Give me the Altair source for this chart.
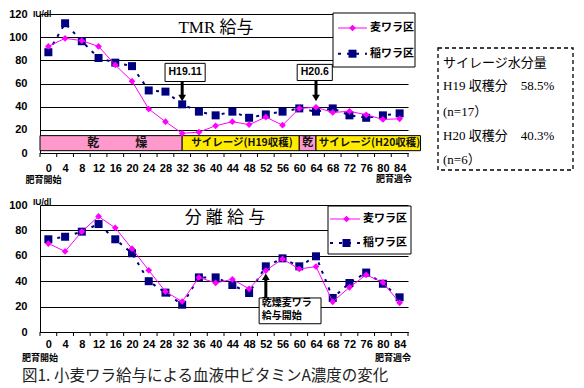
import altair as alt
import pandas as pd

# ---------------- data ----------------
weeks = list(range(0, 88, 4))
series_names = ["麦ワラ区", "稲ワラ区"]

tmr_wheat = [92, 99, 97, 92, 76, 62, 38, 27, 17, 18, 23.5, 27, 24.5, 31, 24,
             38.5, 39.5, 35, 36, 33, 29, 29.5]
tmr_rice = [87, 112, 96.5, 82, 78, 75, 54, 53, 42, 35.7, 32.5, 35.7, 30.4, 33.3,
            35.7, 38.5, 35.7, 38.5, 32.5, 30.4, 32.5, 34.2]

sep_wheat = [69.6, 63.5, 79, 91, 82, 65.6, 48.6, 31.8, 24, 43, 38.6, 41.5, 34,
             48.4, 57.5, 49.6, 51.5, 23.8, 35.2, 45, 39, 23]
sep_rice = [73, 75, 79, 85, 73, 62, 40, 31, 21.5, 43, 43, 37, 30.7, 51.7, 58,
            51.7, 59.6, 26.8, 38.6, 46.8, 38, 27.3]

band_start = [-2, 32, 60, 64]
band_end = [32, 60, 64, 89]
band_fill = ["pink", "yellow", "pink", "yellow"]
band_text = ["乾　　　燥", "サイレージ(H19収穫)", "乾", "サイレージ(H20収穫)"]
band_text_x = [16.5, 46.3, 62, 76.8]
band_text_size = [12, 10.5, 11, 10.5]

side_lines = ["サイレージ水分量", "H19 収穫分　58.5%", "(n=17）",
              "H20 収穫分　40.3%", "(n=6）"]

caption = "図1. 小麦ワラ給与による血液中ビタミンA濃度の変化"

MAG = "#FF00FF"
NAVY = "#000080"
PINK = "#FF99CC"
YELLOW = "#FFEB00"
JP = "Noto Sans CJK JP"
SERIF = "Liberation Serif, Noto Sans CJK JP"

W = 368
xscale = alt.Scale(domain=[-2, 86], nice=False, zero=False)


def one():
    return pd.DataFrame({"a": [0]})


def panel(wheat, rice, ymax, H, lab_pad, title_text, title_x, title_y):
    xaxis = alt.Axis(values=weeks, title=None, grid=False, ticks=False,
                     labelPadding=lab_pad, labelFont="Liberation Sans",
                     labelFontWeight="bold", labelFontSize=11, labelColor="black",
                     labelOverlap=False, labelFlush=False,
                     domainColor="black", domainWidth=1)
    yaxis = alt.Axis(values=list(range(0, ymax + 1, 20)), title=None, grid=True,
                     gridColor="black", gridWidth=1, gridOpacity=1, ticks=False,
                     labelPadding=13, labelFont="Liberation Sans",
                     labelFontWeight="bold", labelFontSize=11, labelColor="black",
                     labelOverlap=False, labelFlush=False,
                     domainColor="black", domainWidth=1)
    yscale = alt.Scale(domain=[0, ymax], nice=False, zero=True)

    def X(f):
        return alt.X(f"{f}:Q", scale=xscale, axis=xaxis)

    def Y(f):
        return alt.Y(f"{f}:Q", scale=yscale, axis=yaxis)

    dw = pd.DataFrame({"week": weeks, "value": wheat})
    dr = pd.DataFrame({"week": weeks, "value": rice})

    base_grid = alt.Chart(dw).mark_point(opacity=0).encode(x=X("week"), y=Y("value"))

    ticks = alt.Chart(pd.DataFrame({"week": [w - 2 for w in weeks] + [86]})).mark_rule(
        color="black", strokeWidth=1).encode(x=X("week"), y=alt.value(H), y2=alt.value(H + 4))

    rice_line = alt.Chart(dr).mark_line(color=NAVY, strokeWidth=2, strokeDash=[3, 6]).encode(
        x=X("week"), y=Y("value"))
    rice_pts = alt.Chart(dr).mark_point(shape="square", filled=True, size=64, color=NAVY,
                                        opacity=1).encode(x=X("week"), y=Y("value"))
    wheat_line = alt.Chart(dw).mark_line(color=MAG, strokeWidth=1).encode(
        x=X("week"), y=Y("value"))
    wheat_pts = alt.Chart(dw).mark_point(shape="diamond", filled=True, size=45, color=MAG,
                                         opacity=1).encode(x=X("week"), y=Y("value"))

    title = alt.Chart(one()).mark_text(font=SERIF, fontSize=17, color="black").encode(
        x=alt.value(title_x), y=alt.value(title_y), text=alt.value(title_text))

    iu = alt.Chart(one()).mark_text(font="Liberation Sans", fontWeight="bold", fontSize=8.5,
                                    align="left", color="black").encode(
        x=alt.value(-7), y=alt.value(-3 if ymax == 100 else 0), text=alt.value("IU/dl"))

    layers = [base_grid, ticks]
    return X, Y, layers, [rice_line, rice_pts, wheat_line, wheat_pts], title, iu


def legend(bx0, bx1, by0, by1, lx0, lx1, mx, tx, y1, y2):
    box = alt.Chart(one()).mark_rect(fill="white", stroke="black", strokeWidth=1).encode(
        x=alt.value(bx0), x2=alt.value(bx1), y=alt.value(by0), y2=alt.value(by1))
    l1 = alt.Chart(one()).mark_rule(color=MAG, strokeWidth=1).encode(
        x=alt.value(lx0), x2=alt.value(lx1), y=alt.value(y1))
    p1 = alt.Chart(one()).mark_point(shape="diamond", filled=True, size=45, color=MAG,
                                     opacity=1).encode(x=alt.value(mx), y=alt.value(y1))
    l2 = alt.Chart(one()).mark_rule(color=NAVY, strokeWidth=2, strokeDash=[3, 6]).encode(
        x=alt.value(lx0), x2=alt.value(lx1), y=alt.value(y2))
    p2 = alt.Chart(one()).mark_point(shape="square", filled=True, size=64, color=NAVY,
                                     opacity=1).encode(x=alt.value(mx), y=alt.value(y2))
    t1 = alt.Chart(one()).mark_text(font=JP, fontWeight="bold", fontSize=11, align="left",
                                    color="black").encode(
        x=alt.value(tx), y=alt.value(y1), text=alt.value(series_names[0]))
    t2 = alt.Chart(one()).mark_text(font=JP, fontWeight="bold", fontSize=11, align="left",
                                    color="black").encode(
        x=alt.value(tx), y=alt.value(y2), text=alt.value(series_names[1]))
    return [box, l1, p1, l2, p2, t1, t2]


def arrow(X, Y, x, y_from, y_to, head_y, down):
    d = pd.DataFrame({"week": [x], "v1": [y_from], "v2": [y_to], "vh": [head_y]})
    shaft = alt.Chart(d).mark_rule(color="black", strokeWidth=3).encode(
        x=X("week"), y=Y("v1"), y2=alt.Y2("v2"))
    head = alt.Chart(d).mark_point(shape="triangle-down" if down else "triangle-up",
                                   filled=True, size=60, color="black", opacity=1).encode(
        x=X("week"), y=Y("vh"))
    return [shaft, head]


def label_box(X, Y, x0, x1, y0, y1):
    d = pd.DataFrame({"week": [x0], "w2": [x1], "v1": [y0], "v2": [y1]})
    return alt.Chart(d).mark_rect(fill="white", stroke="black", strokeWidth=1).encode(
        x=X("week"), x2=alt.X2("w2"), y=Y("v1"), y2=alt.Y2("v2"))


# ---------------- top panel ----------------
H1 = 139
X1, Y1, base1, data1, title1, iu1 = panel(tmr_wheat, tmr_rice, 120, H1, 9, "TMR 給与", 176, 14)

bands = pd.DataFrame({"week": band_start, "w2": band_end, "v1": [2] * 4, "v2": [15] * 4,
                      "kind": band_fill})
band_rect = alt.Chart(bands).mark_rect(stroke="black", strokeWidth=1).encode(
    x=X1("week"), x2=alt.X2("w2"), y=Y1("v1"), y2=alt.Y2("v2"),
    fill=alt.Fill("kind:N", scale=alt.Scale(domain=["pink", "yellow"], range=[PINK, YELLOW]),
                  legend=None))
band_df = pd.DataFrame({"week": band_text_x, "value": [8.5] * 4, "t": band_text,
                        "fs": band_text_size})
band_lab = alt.Chart(band_df).mark_text(font=JP, fontWeight="bold", color="#111").encode(
    x=X1("week"), y=Y1("value"), text="t:N",
    size=alt.Size("fs:Q", scale=None, legend=None))

box_a = label_box(X1, Y1, 27.9, 37.5, 61.7, 77.4)
txt_a = alt.Chart(pd.DataFrame({"week": [32.7], "value": [69.5]})).mark_text(
    font="Liberation Sans", fontWeight="bold", fontSize=10.5, color="black").encode(
    x=X1("week"), y=Y1("value"), text=alt.value("H19.11"))
arr_a = arrow(X1, Y1, 32, 61.7, 50, 47.5, True)

box_b = label_box(X1, Y1, 59.5, 67.9, 62.6, 76.5)
txt_b = alt.Chart(pd.DataFrame({"week": [63.7], "value": [69.5]})).mark_text(
    font="Liberation Sans", fontWeight="bold", fontSize=10.5, color="black").encode(
    x=X1("week"), y=Y1("value"), text=alt.value("H20.6"))
arr_b = arrow(X1, Y1, 64, 62.6, 50, 47.5, True)

leg1 = legend(293, 375, -1, 53, 298, 327, 312.5, 330, 14, 39.7)

side_box = alt.Chart(one()).mark_rect(fill="white", stroke="black", strokeWidth=1.3,
                                      strokeDash=[4, 3]).encode(
    x=alt.value(398), x2=alt.value(533), y=alt.value(34), y2=alt.value(156))
side_txt = alt.Chart(pd.DataFrame({"t": side_lines, "yy": [49, 72, 98, 122, 146]})).mark_text(
    font=SERIF, fontSize=13, align="left", color="black").encode(
    x=alt.value(403), y=alt.Y("yy:Q", scale=None), text="t:N")

kaishi1 = alt.Chart(one()).mark_text(font=JP, fontWeight="bold", fontSize=9, color="black").encode(
    x=alt.value(3.5), y=alt.value(166), text=alt.value("肥育開始"))
shurei1 = alt.Chart(one()).mark_text(font=JP, fontWeight="bold", fontSize=9, color="black").encode(
    x=alt.value(354), y=alt.value(165), text=alt.value("肥育週令"))

top = alt.layer(*base1, band_rect, band_lab, *data1, box_a, txt_a, *arr_a, box_b, txt_b,
                *arr_b, *leg1, side_box, side_txt, title1, iu1, kaishi1, shurei1).properties(
    width=W, height=H1)

# ---------------- bottom panel ----------------
H2 = 127
X2, Y2, base2, data2, title2, iu2 = panel(sep_wheat, sep_rice, 100, H2, 6, "分 離 給 与", 185, 13)

box_c = label_box(X2, Y2, 50.4, 65.2, 6.5, 26.8)
txt_c = alt.Chart(pd.DataFrame({"week": [51.0, 51.0], "value": [23.0, 12.3],
                                "t": ["乾燥麦ワラ", "給与開始"]})).mark_text(
    font=JP, fontWeight="bold", fontSize=10, align="left", color="black").encode(
    x=X2("week"), y=Y2("value"), text="t:N")
arr_c = arrow(X2, Y2, 52, 26.8, 41, 43.5, False)

leg2 = legend(288, 371, 1, 49, 290, 320, 306.5, 323, 14, 38)

kaishi2 = alt.Chart(one()).mark_text(font=JP, fontWeight="bold", fontSize=9, color="black").encode(
    x=alt.value(0), y=alt.value(153), text=alt.value("肥育開始"))
shurei2 = alt.Chart(one()).mark_text(font=JP, fontWeight="bold", fontSize=9, color="black").encode(
    x=alt.value(353), y=alt.value(153), text=alt.value("肥育週令"))
cap = alt.Chart(one()).mark_text(font=JP, fontSize=15.5, align="left", color="#222").encode(
    x=alt.value(-18), y=alt.value(171), text=alt.value(caption))

bottom = alt.layer(*base2, *data2, box_c, txt_c, *arr_c, *leg2, title2, iu2, kaishi2,
                   shurei2, cap).properties(width=W, height=H2)

chart = alt.vconcat(top, bottom, spacing=52, bounds="flush").properties(
    padding=0, background="white").configure_view(strokeWidth=0)

chart.save("out.html", embed_options={"renderer": "svg", "actions": False})
